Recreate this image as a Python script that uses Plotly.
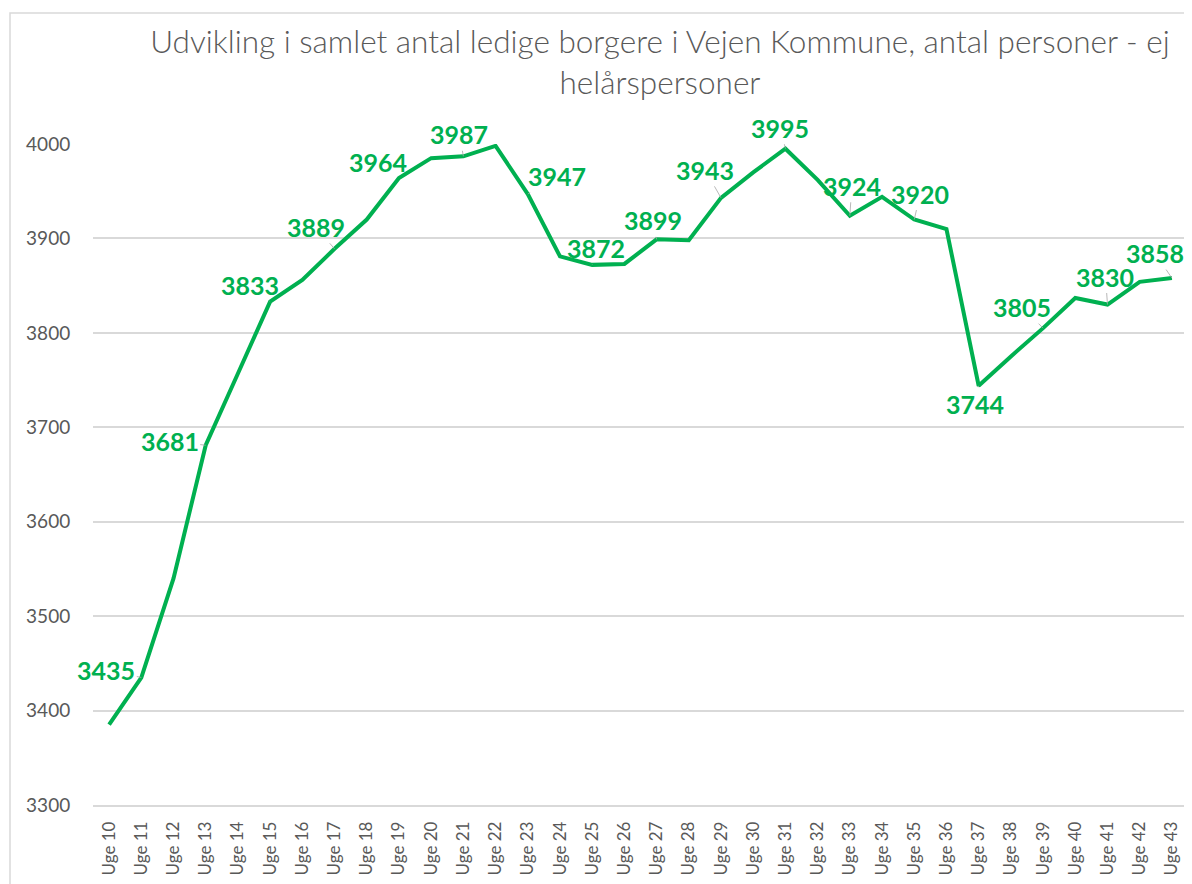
import plotly.graph_objects as go

weeks = [f"Uge {w}" for w in range(10, 44)]
values = [3385, 3435, 3540, 3681, 3757, 3833, 3856, 3889, 3920, 3964,
          3985, 3987, 3998, 3947, 3881, 3872, 3873, 3899, 3898, 3943,
          3970, 3995, 3962, 3924, 3944, 3920, 3910, 3744, 3775, 3805,
          3837, 3830, 3854, 3858]

# label offsets (px) for the labelled points (every other week)
label_idx = list(range(1, 34, 2))
label_dx = [-35, -36, -20, -19, -21, -4, 29, 4, -4, -16, -5, 2, 6, -4, -21, -2, -17]
label_dy = [-8, -4, -17, -22, -16, -22, -18, -17, -19, -28, -21, -30, -26, 18, -21, -28, -25]

GREEN = "#00B050"
GREY = "#595959"
FONT = "Lato"

# page body has an 8px margin, so the figure is sized to fit the window
W, H = 1184, 876
L, R, T, B = 85, 4, 136, 79
pw, ph = W - L - R, H - T - B

fig = go.Figure()
fig.add_trace(go.Scatter(
    x=weeks, y=values, mode="lines",
    line=dict(color=GREEN, width=4),
    hoverinfo="x+y", showlegend=False, cliponaxis=False,
))

for k, i in enumerate(label_idx):
    fig.add_annotation(
        x=weeks[i], y=values[i], text=str(values[i]),
        showarrow=True, arrowhead=0, arrowwidth=0.8, arrowcolor="#a6a6a6",
        ax=label_dx[k], ay=label_dy[k], standoff=0, startstandoff=0,
        font=dict(family=FONT, size=25, color=GREEN, weight="bold"),
    )

# chart border
fig.add_shape(type="rect", xref="paper", yref="paper",
              x0=(2 - L) / pw, x1=(W + 20 - L) / pw,
              y0=(H - B - (H + 20)) / ph, y1=(H - B - 5) / ph,
              line=dict(color="#d9d9d9", width=1.5), fillcolor="rgba(0,0,0,0)", layer="below")

fig.update_layout(
    width=W, height=H,
    margin=dict(l=L, r=R, t=T, b=B),
    paper_bgcolor="white", plot_bgcolor="white",
    title=dict(
        text="Udvikling i samlet antal ledige borgere i Vejen Kommune, antal personer - ej<br>helårspersoner",
        x=(652 - L) / pw, xref="paper", xanchor="center",
        y=1 - 45 / H, yref="container", yanchor="top",
        font=dict(family=FONT, size=31.5, color=GREY, weight=300),
    ),
    xaxis=dict(
        type="category", range=[-0.5, 33.5], tickangle=-90,
        tickfont=dict(family=FONT, size=17, color=GREY),
        showgrid=False, showline=True, linecolor="#d9d9d9", linewidth=1.5,
        ticks="outside", ticklen=8, tickcolor="rgba(0,0,0,0)",
        automargin=False, fixedrange=True,
    ),
    yaxis=dict(
        range=[3300, 4000], dtick=100, tick0=3300,
        tickfont=dict(family=FONT, size=19, color=GREY),
        showgrid=True, gridcolor="#d9d9d9", gridwidth=1.5,
        zeroline=False, showline=False, ticks="outside", ticklen=18, tickcolor="rgba(0,0,0,0)",
        automargin=False, fixedrange=True,
    ),
)

fig.write_html("out.html")
